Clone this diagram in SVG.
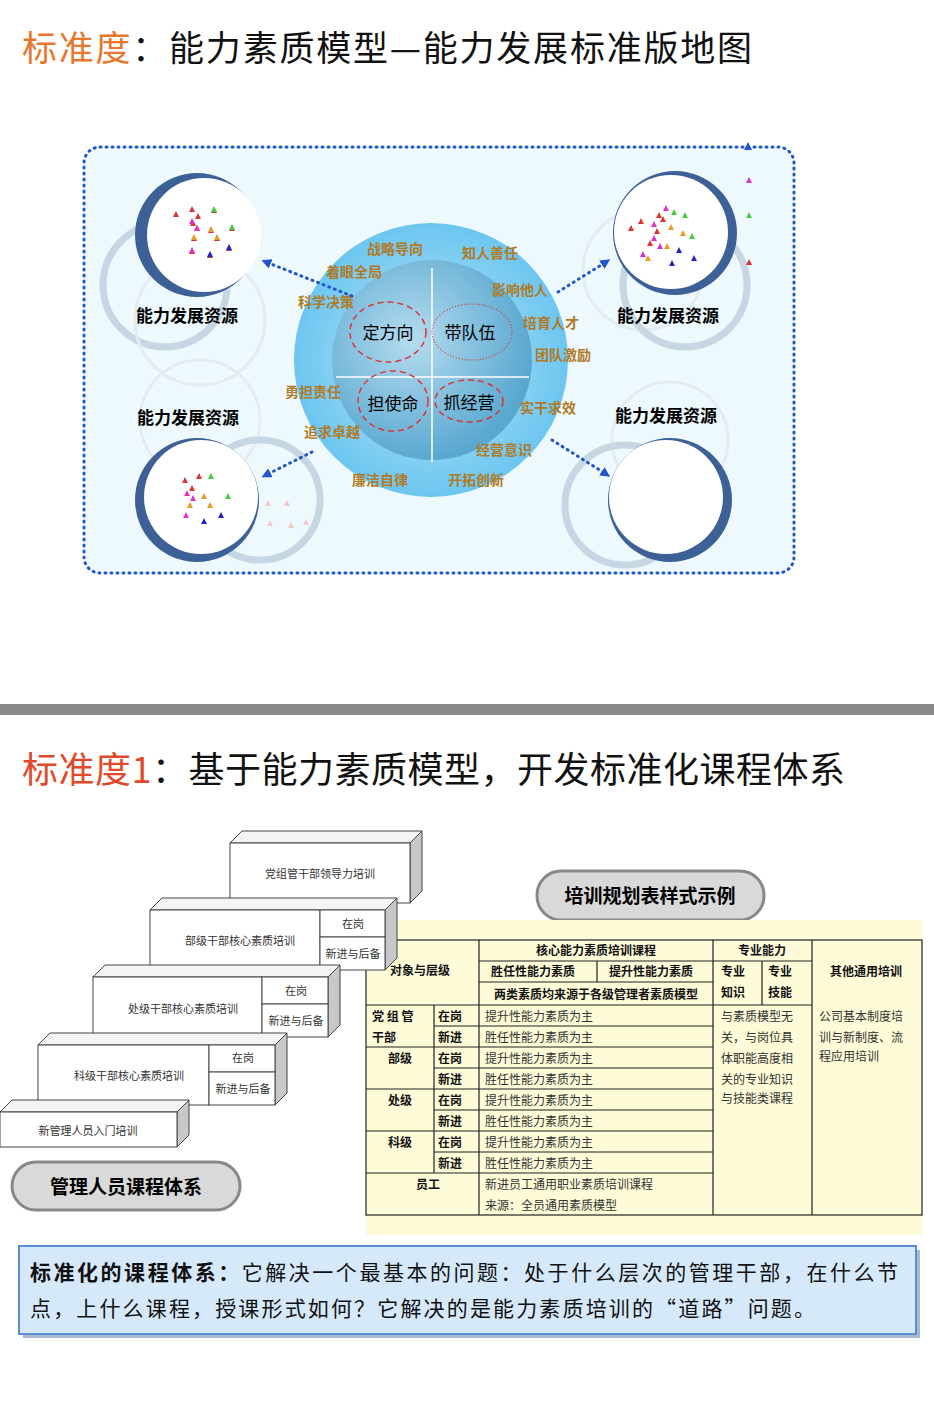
<svg xmlns="http://www.w3.org/2000/svg" width="934" height="1416" viewBox="0 0 934 1416">
<defs>
<style>
text{font-family:"Noto Sans CJK SC","Liberation Sans",sans-serif}
.gold{fill:#b07a26;font-size:14px;font-weight:bold;text-anchor:middle}
.res{font-size:17px;font-weight:bold;text-anchor:middle}
.box{fill:#fff;stroke:#444;stroke-width:1}
.side{fill:#c8c8c8;stroke:#444;stroke-width:1}
.top{fill:#f4f4f4;stroke:#444;stroke-width:1}
.st{font-size:11px;fill:#333;text-anchor:middle;font-family:"Noto Sans CJK SC",serif}
.tl{stroke:#222;stroke-width:1.2;fill:none}
.tb{font-size:12px;font-weight:bold;fill:#111}
.tn{font-size:12px;fill:#333}
.dot{stroke:#2255cc;stroke-width:3;stroke-dasharray:1 5;stroke-linecap:round;fill:none}
</style>
<radialGradient id="og" cx="0.5" cy="0.5" r="0.5"><stop offset="0" stop-color="#bfe6f8"/><stop offset="1" stop-color="#6cc6f0"/></radialGradient>
<radialGradient id="ig" cx="0.4" cy="0.4" r="0.6"><stop offset="0" stop-color="#b5dcef"/><stop offset="1" stop-color="#5aa8d0"/></radialGradient>
<marker id="ar" markerWidth="10" markerHeight="10" refX="5" refY="5" orient="auto" markerUnits="userSpaceOnUse"><path d="M0,0 L10,5 L0,10 z" fill="#2255cc"/></marker>
</defs>
<rect width="934" height="1416" fill="#fff"/>
<text x="22" y="61" font-size="35" fill="#e8762c" textLength="730" lengthAdjust="spacing">标准度<tspan fill="#111">：能力素质模型—能力发展标准版地图</tspan></text>

<rect x="84" y="147" width="710" height="426" rx="16" fill="#eef9fd" stroke="#2255cc" stroke-width="3" stroke-dasharray="1 5" stroke-linecap="round"/>

<g id="center">
<circle cx="431" cy="360" r="137" fill="url(#og)"/>
<circle cx="432" cy="360" r="100" fill="url(#ig)"/>
<line x1="432" y1="268" x2="432" y2="462" stroke="#fff" stroke-width="1.5"/>
<line x1="336" y1="377" x2="529" y2="377" stroke="#fff" stroke-width="1.5"/>
<ellipse cx="388" cy="332" rx="38" ry="30" fill="none" stroke="#d33" stroke-width="1.5" stroke-dasharray="6 4"/>
<ellipse cx="472" cy="332" rx="40" ry="28" fill="none" stroke="#d33" stroke-width="1.2" stroke-dasharray="1 2"/>
<ellipse cx="393" cy="401" rx="35" ry="30" fill="none" stroke="#d33" stroke-width="1.5" stroke-dasharray="6 4"/>
<ellipse cx="469" cy="401" rx="34" ry="21" fill="none" stroke="#d33" stroke-width="1.5" stroke-dasharray="6 4"/>
<text x="388" y="339" font-size="17" text-anchor="middle">定方向</text>
<text x="470" y="339" font-size="17" text-anchor="middle">带队伍</text>
<text x="393" y="410" font-size="17" text-anchor="middle">担使命</text>
<text x="469" y="409" font-size="17" text-anchor="middle">抓经营</text>
<text class="gold" x="395" y="254">战略导向</text>
<text class="gold" x="490" y="258">知人善任</text>
<text class="gold" x="354" y="277">着眼全局</text>
<text class="gold" x="520" y="295">影响他人</text>
<text class="gold" x="326" y="307">科学决策</text>
<text class="gold" x="551" y="328">培育人才</text>
<text class="gold" x="563" y="360">团队激励</text>
<text class="gold" x="313" y="397">勇担责任</text>
<text class="gold" x="548" y="413">实干求效</text>
<text class="gold" x="332" y="437">追求卓越</text>
<text class="gold" x="504" y="455">经营意识</text>
<text class="gold" x="380" y="485">廉洁自律</text>
<text class="gold" x="476" y="485">开拓创新</text>
</g>

<g id="res-tl">
<circle cx="165" cy="285" r="62" fill="none" stroke="#c6d6e2" stroke-width="7"/>
<circle cx="200" cy="320" r="65" fill="none" stroke="#e3ecf2" stroke-width="3"/>
<circle cx="197" cy="235" r="62" fill="#3d6197"/>
<circle cx="204" cy="235" r="57" fill="#fff"/>
<text class="res" x="187" y="322">能力发展资源</text>
</g>
<g id="res-tr">
<circle cx="643" cy="270" r="60" fill="none" stroke="#e3ecf2" stroke-width="3"/>
<circle cx="685" cy="285" r="62" fill="none" stroke="#c6d6e2" stroke-width="7"/>
<circle cx="675" cy="233" r="62" fill="#3d6197"/>
<circle cx="671" cy="232" r="57" fill="#fff"/>
<text class="res" x="668" y="322">能力发展资源</text>
</g>
<g id="res-bl">
<circle cx="200" cy="420" r="60" fill="none" stroke="#e3ecf2" stroke-width="3"/>
<circle cx="260" cy="500" r="60" fill="none" stroke="#c6d6e2" stroke-width="7"/>
<circle cx="197" cy="500" r="62" fill="#3d6197"/>
<circle cx="201" cy="497" r="57" fill="#fff"/>
<text class="res" x="188" y="424">能力发展资源</text>
</g>
<g id="res-br">
<circle cx="670" cy="440" r="58" fill="none" stroke="#e3ecf2" stroke-width="3"/>
<circle cx="625" cy="505" r="60" fill="none" stroke="#c6d6e2" stroke-width="7"/>
<circle cx="670" cy="500" r="62" fill="#3d6197"/>
<circle cx="666" cy="497" r="57" fill="#fff"/>
<text class="res" x="666" y="422">能力发展资源</text>
</g>
<g id="tri" stroke="none">
<path d="M176,211l3,6h-6z M192,206l3,6h-6z M198,213l3,6h-6z M214,207l3,6h-6z M193,220l3,6h-6z M197,225l3,6h-6z M211,227l3,6h-6z M232,225l3,6h-6z M194,235l3,6h-6z M217,235l3,6h-6z M192,248l3,6h-6z M229,245l3,6h-6z M210,252l3,6h-6z" fill="#d33"/>
<path d="M192,218l3,6h-6z M197,225l3,6h-6z M192,247l3,6h-6z" fill="#d3c"/>
<path d="M194,234l3,6h-6z M211,226l3,6h-6z M217,234l3,6h-6z" fill="#e89a2a"/>
<path d="M214,206l3,6h-6z M232,224l3,6h-6z" fill="#4c4"/>
<path d="M229,244l3,6h-6z M210,251l3,6h-6z" fill="#22c"/>
<path d="M659,212l3,6h-6z M641,218l3,6h-6z M663,216l3,6h-6z M657,228l3,6h-6z M650,240l3,6h-6z M631,225l3,6h-6z" fill="#d33"/>
<path d="M666,205l3,6h-6z M654,221l3,6h-6z M660,243l3,6h-6z M643,251l3,6h-6z M654,235l3,6h-6z" fill="#d3c"/>
<path d="M671,224l3,6h-6z M683,230l3,6h-6z M667,243l3,6h-6z M648,255l3,6h-6z" fill="#e89a2a"/>
<path d="M685,212l3,6h-6z M692,233l3,6h-6z M674,209l3,6h-6z M749,212l3,6h-6z" fill="#4c4"/>
<path d="M694,255l3,6h-6z M679,247l3,6h-6z M672,260l3,6h-6z" fill="#22c"/>
<path d="M749,177l3,6h-6z" fill="#d3c"/><path d="M749,259l3,6h-6z" fill="#d33"/>
<path d="M185,477l3,6h-6z M199,473l3,6h-6z M192,485l3,6h-6z" fill="#d33"/>
<path d="M187,490l3,6h-6z M186,512l3,6h-6z M193,495l3,6h-6z" fill="#d3c"/>
<path d="M204,493l3,6h-6z M190,502l3,6h-6z M210,502l3,6h-6z" fill="#e89a2a"/>
<path d="M211,473l3,6h-6z M228,493l3,6h-6z" fill="#4c4"/>
<path d="M204,518l3,6h-6z M221,512l3,6h-6z" fill="#22c"/>
<path d="M268,500l3,6h-6z M287,500l3,6h-6z M291,522l3,6h-6z M270,520l3,6h-6z M306,519l3,6h-6z" fill="#f0c8c8"/>
</g>
<g id="connectors">
<path class="dot" d="M352,296 L266,262" marker-end="url(#ar)"/>
<path class="dot" d="M558,292 L606,262" marker-end="url(#ar)"/>
<path class="dot" d="M312,452 L266,475" marker-end="url(#ar)"/>
<path class="dot" d="M552,440 L606,474" marker-end="url(#ar)"/>
</g>
<path d="M744,150 l4,-8 l4,8z" fill="#2255cc"/>

<rect x="0" y="704" width="934" height="11" fill="#8a8a8a"/>
<text x="22" y="783" font-size="36" fill="#e04a2a" textLength="823" lengthAdjust="spacing">标准度1<tspan fill="#111">：基于能力素质模型，开发标准化课程体系</tspan></text>

<g id="pill2"><rect x="537" y="871" width="227" height="49" rx="24" fill="#d9d9d9" stroke="#888" stroke-width="3"/><text x="650" y="903" font-size="19" font-weight="bold" text-anchor="middle">培训规划表样式示例</text></g>

<g id="table">
<rect x="366" y="920" width="556" height="315" fill="#fdfbd8"/>
<rect x="366" y="940" width="556" height="275" class="tl"/>
<path class="tl" d="M479,940V1215 M713,940V1215 M812,940V1215 M479,961H812 M479,982H713 M597,961V982 M762,961V1005 M366,1005H812 M434,1005V1173 M434,1026H713 M366,1047H713 M434,1068H713 M366,1089H713 M434,1110H713 M366,1131H713 M434,1152H713 M366,1173H713"/>
<text class="tb" x="596" y="955" text-anchor="middle">核心能力素质培训课程</text>
<text class="tb" x="762" y="955" text-anchor="middle">专业能力</text>
<text class="tb" x="420" y="975" text-anchor="middle">对象与层级</text>
<text class="tb" x="533" y="976" text-anchor="middle">胜任性能力素质</text>
<text class="tb" x="651" y="976" text-anchor="middle">提升性能力素质</text>
<text class="tb" x="596" y="999" text-anchor="middle" font-size="11">两类素质均来源于各级管理者素质模型</text>
<text class="tb" x="721" y="976">专业</text><text class="tb" x="721" y="997">知识</text>
<text class="tb" x="768" y="976">专业</text><text class="tb" x="768" y="997">技能</text>
<text class="tb" x="866" y="976" text-anchor="middle">其他通用培训</text>
<text class="tb" x="372" y="1021">党 组 管</text><text class="tb" x="372" y="1042">干部</text>
<text class="tb" x="400" y="1063" text-anchor="middle">部级</text><text class="tb" x="400" y="1105" text-anchor="middle">处级</text><text class="tb" x="400" y="1147" text-anchor="middle">科级</text>
<text class="tb" x="428" y="1189" text-anchor="middle">员工</text>
<g class="tb"><text x="438" y="1021">在岗</text><text x="438" y="1042">新进</text><text x="438" y="1063">在岗</text><text x="438" y="1084">新进</text><text x="438" y="1105">在岗</text><text x="438" y="1126">新进</text><text x="438" y="1147">在岗</text><text x="438" y="1168">新进</text></g>
<g class="tn"><text x="485" y="1021">提升性能力素质为主</text><text x="485" y="1042">胜任性能力素质为主</text><text x="485" y="1063">提升性能力素质为主</text><text x="485" y="1084">胜任性能力素质为主</text><text x="485" y="1105">提升性能力素质为主</text><text x="485" y="1126">胜任性能力素质为主</text><text x="485" y="1147">提升性能力素质为主</text><text x="485" y="1168">胜任性能力素质为主</text><text x="485" y="1189">新进员工通用职业素质培训课程</text><text x="485" y="1210">来源：全员通用素质模型</text>
<text x="721" y="1021">与素质模型无</text><text x="721" y="1042">关，与岗位具</text><text x="721" y="1063">体职能高度相</text><text x="721" y="1084">关的专业知识</text><text x="721" y="1103">与技能类课程</text>
<text x="819" y="1021">公司基本制度培</text><text x="819" y="1042">训与新制度、流</text><text x="819" y="1061">程应用培训</text></g>
</g>

<g id="steps">
<path class="top" d="M230,843 l12,-12 h180 l-12,12z"/><path class="side" d="M410,843 l12,-12 v60 l-12,12z"/>
<rect class="box" x="230" y="843" width="180" height="60"/><text class="st" x="320" y="878">党组管干部领导力培训</text>
<path class="top" d="M150,910 l12,-12 h235 l-12,12z"/><path class="side" d="M385,910 l12,-12 v60 l-12,12z"/>
<rect class="box" x="150" y="910" width="170" height="60"/><rect class="box" x="320" y="910" width="65" height="27"/><rect class="box" x="320" y="937" width="65" height="33"/>
<text class="st" x="240" y="945">部级干部核心素质培训</text><text class="st" x="353" y="928">在岗</text><text class="st" x="353" y="958">新进与后备</text>
<path class="top" d="M93,977 l12,-12 h235 l-12,12z"/><path class="side" d="M328,977 l12,-12 v60 l-12,12z"/>
<rect class="box" x="93" y="977" width="169" height="60"/><rect class="box" x="262" y="977" width="66" height="27"/><rect class="box" x="262" y="1004" width="66" height="33"/>
<text class="st" x="183" y="1013">处级干部核心素质培训</text><text class="st" x="296" y="995">在岗</text><text class="st" x="296" y="1025">新进与后备</text>
<path class="top" d="M38,1045 l12,-12 h237 l-12,12z"/><path class="side" d="M275,1045 l12,-12 v60 l-12,12z"/>
<rect class="box" x="38" y="1045" width="171" height="60"/><rect class="box" x="209" y="1045" width="66" height="27"/><rect class="box" x="209" y="1072" width="66" height="33"/>
<text class="st" x="129" y="1080">科级干部核心素质培训</text><text class="st" x="243" y="1062">在岗</text><text class="st" x="243" y="1093">新进与后备</text>
<path class="top" d="M0,1112 l12,-12 h177 l-12,12z"/><path class="side" d="M177,1112 l12,-12 v35 l-12,12z"/>
<rect class="box" x="0" y="1112" width="177" height="35"/><text class="st" x="88" y="1135">新管理人员入门培训</text>
</g>
<g id="pill1"><rect x="12" y="1162" width="228" height="48" rx="24" fill="#d9d9d9" stroke="#888" stroke-width="3"/><text x="126" y="1194" font-size="19" font-weight="bold" text-anchor="middle">管理人员课程体系</text></g>

<g id="summary">
<rect x="23" y="1250" width="897" height="88" fill="#a9b9cc"/>
<rect x="19" y="1246" width="897" height="88" fill="#d6e9fb" stroke="#5a8fd8" stroke-width="2"/>
<text x="30" y="1280" font-size="21" fill="#111" textLength="868" lengthAdjust="spacing"><tspan font-weight="bold">标准化的课程体系：</tspan>它解决一个最基本的问题：处于什么层次的管理干部，在什么节</text>
<text x="30" y="1316" font-size="21" fill="#111" textLength="785" lengthAdjust="spacing">点，上什么课程，授课形式如何？它解决的是能力素质培训的“道路”问题。</text>
</g>
</svg>
